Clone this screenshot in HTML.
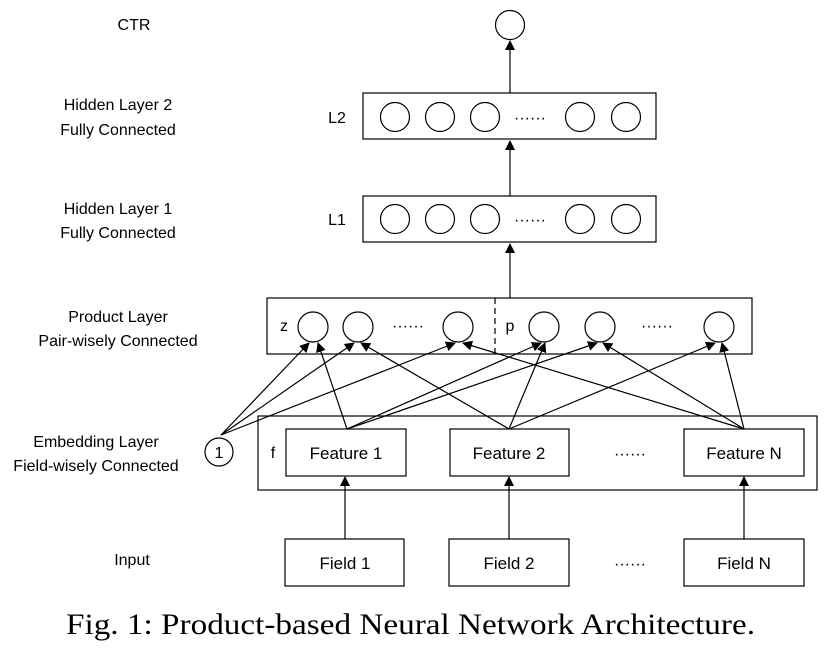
<!DOCTYPE html>
<html><head><meta charset="utf-8"><style>
html,body{margin:0;padding:0;background:#fff;}
svg{display:block;}
text{font-family:"Liberation Sans",sans-serif;fill:#000;}
</style></head><body>
<svg width="828" height="663" viewBox="0 0 828 663" xmlns="http://www.w3.org/2000/svg">
<defs>
<marker id="a" markerWidth="10" markerHeight="10" refX="9" refY="5" orient="auto" markerUnits="userSpaceOnUse">
<path d="M0,0 L10,5 L0,10 z" fill="#000"/></marker>
</defs>
<g fill="none" stroke="#000" stroke-width="1.2">
<circle cx="510" cy="25" r="14.5"/>
<line x1="510" y1="93" x2="510" y2="41" marker-end="url(#a)"/>
<rect x="363" y="93" width="293" height="46"/>
<circle cx="395" cy="117" r="14.5"/><circle cx="440" cy="117" r="14.5"/><circle cx="485" cy="117" r="14.5"/>
<circle cx="580" cy="117" r="14.5"/><circle cx="626" cy="117" r="14.5"/>
<line x1="510" y1="196" x2="510" y2="141" marker-end="url(#a)"/>
<rect x="363" y="196" width="293" height="46"/>
<circle cx="395" cy="219" r="14.5"/><circle cx="440" cy="219" r="14.5"/><circle cx="485" cy="219" r="14.5"/>
<circle cx="580" cy="219" r="14.5"/><circle cx="626" cy="219" r="14.5"/>
<line x1="510" y1="298" x2="510" y2="244" marker-end="url(#a)"/>
<rect x="267" y="298" width="485" height="56"/>
<line x1="495" y1="298" x2="495" y2="354" stroke-dasharray="6,4"/>
<circle cx="313" cy="327" r="15"/><circle cx="358" cy="327" r="15"/><circle cx="458" cy="327" r="15"/>
<circle cx="544" cy="327" r="15"/><circle cx="600" cy="327" r="15"/><circle cx="719" cy="327" r="15"/>
<rect x="258" y="416" width="559" height="74"/>
<rect x="286" y="429" width="120" height="47"/>
<rect x="450" y="429" width="119" height="47"/>
<rect x="684" y="429" width="120" height="47"/>
<circle cx="219" cy="452" r="14"/>
<line x1="221" y1="435" x2="309" y2="343" marker-end="url(#a)"/>
<line x1="221" y1="435" x2="354" y2="343" marker-end="url(#a)"/>
<line x1="221" y1="435" x2="455" y2="343" marker-end="url(#a)"/>
<line x1="347" y1="429" x2="318" y2="343" marker-end="url(#a)"/>
<line x1="347" y1="429" x2="541" y2="343" marker-end="url(#a)"/>
<line x1="347" y1="429" x2="597" y2="343" marker-end="url(#a)"/>
<line x1="509" y1="429" x2="361" y2="343" marker-end="url(#a)"/>
<line x1="509" y1="429" x2="545" y2="343" marker-end="url(#a)"/>
<line x1="509" y1="429" x2="715" y2="343" marker-end="url(#a)"/>
<line x1="744" y1="429" x2="463" y2="343" marker-end="url(#a)"/>
<line x1="744" y1="429" x2="603" y2="343" marker-end="url(#a)"/>
<line x1="744" y1="429" x2="722" y2="343" marker-end="url(#a)"/>
<rect x="285" y="539" width="119" height="47"/>
<rect x="449" y="539" width="120" height="47"/>
<rect x="684" y="539" width="120" height="47"/>
<line x1="345" y1="539" x2="345" y2="477" marker-end="url(#a)"/>
<line x1="509" y1="539" x2="509" y2="477" marker-end="url(#a)"/>
<line x1="744" y1="539" x2="744" y2="477" marker-end="url(#a)"/>
</g>
<g font-size="16" text-anchor="middle">
<text x="134" y="30">CTR</text>
<text x="118" y="110">Hidden Layer 2</text>
<text x="118" y="135">Fully Connected</text>
<text x="118" y="214">Hidden Layer 1</text>
<text x="118" y="238">Fully Connected</text>
<text x="118" y="322">Product Layer</text>
<text x="118" y="346">Pair-wisely Connected</text>
<text x="96" y="447">Embedding Layer</text>
<text x="96" y="471">Field-wisely Connected</text>
<text x="132" y="565">Input</text>
<text x="337" y="123">L2</text>
<text x="337" y="225">L1</text>
<text x="530" y="123">······</text>
<text x="530" y="225">······</text>
<text x="284" y="331">z</text>
<text x="510" y="331">p</text>
<text x="408" y="331">······</text>
<text x="657" y="331">······</text>
<text x="219" y="458">1</text>
<text x="273" y="458">f</text>
<text x="346" y="459" font-size="17">Feature 1</text>
<text x="509" y="459" font-size="17">Feature 2</text>
<text x="744" y="459" font-size="17">Feature N</text>
<text x="630" y="459">······</text>
<text x="345" y="569" font-size="17">Field 1</text>
<text x="509" y="569" font-size="17">Field 2</text>
<text x="744" y="569" font-size="17">Field N</text>
<text x="630" y="569">······</text>
</g>
<text x="66" y="634" style="font-family:'Liberation Serif',serif" font-size="30" textLength="689" lengthAdjust="spacingAndGlyphs">Fig. 1: Product-based Neural Network Architecture.</text>
</svg>
</body></html>
